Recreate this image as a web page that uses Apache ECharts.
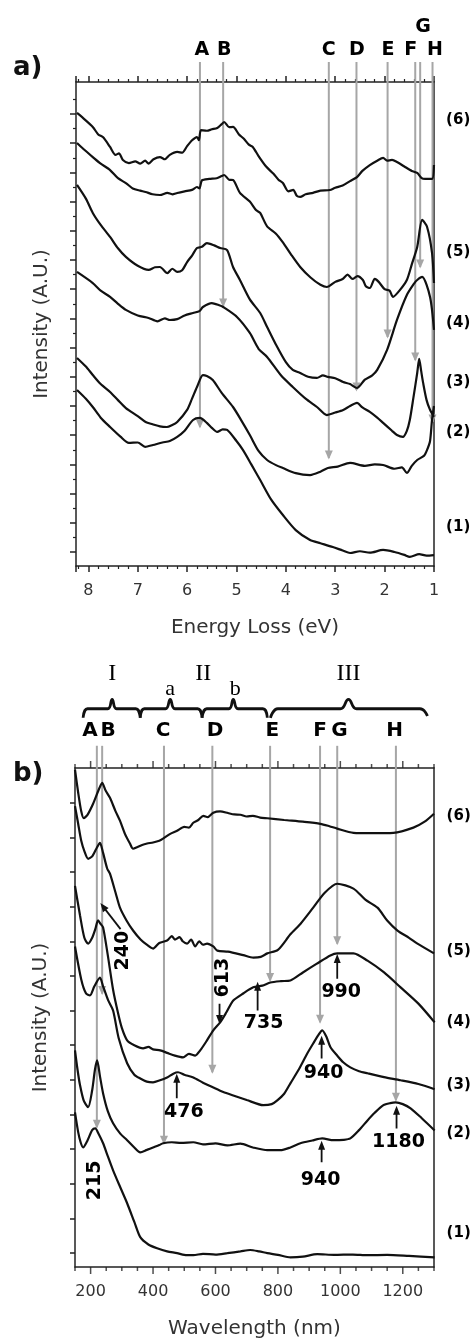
<!DOCTYPE html>
<html>
<head>
<meta charset="utf-8">
<script src="https://cdn.jsdelivr.net/npm/echarts@6/dist/echarts.min.js"></script>
<style>
  html, body { margin: 0; padding: 0; background: #fff; }
  #chart { width: 474px; height: 1343px; }
</style>
</head>
<body>
<div id="chart"></div>
<script>
// ---------- Panel a: energy loss spectra (eV, stacked intensity) ----------
const eelsS6 = [[8.23,30.07],[8.1,29.7],[7.91,29.11],[7.8,28.6],[7.7,28.4],[7.56,27.74],[7.45,27.2],[7.38,27.3],[7.30,26.85],[7.18,26.64],[7.05,26.75],[6.95,26.6],[6.85,26.8],[6.78,26.6],[6.68,26.9],[6.55,27.05],[6.45,26.9],[6.35,27.2],[6.2,27.4],[6.1,27.35],[6.0,27.8],[5.9,28.2],[5.80,28.42],[5.76,28.2],[5.72,28.9],[5.6,28.85],[5.5,28.95],[5.39,29.04],[5.3,29.3],[5.25,29.45],[5.15,29.1],[5.07,29.11],[4.95,28.6],[4.85,28.3],[4.75,27.9],[4.67,27.74],[4.55,27.1],[4.4,26.4],[4.25,25.9],[4.15,25.5],[4.06,25.27],[3.95,24.7],[3.85,24.8],[3.78,24.4],[3.71,24.32],[3.6,24.5],[3.45,24.6],[3.3,24.75],[3.11,24.79],[3.0,24.95],[2.85,25.1],[2.7,25.4],[2.56,25.68],[2.45,26.1],[2.3,26.5],[2.15,26.8],[2.03,26.99],[1.95,26.8],[1.85,26.85],[1.75,26.71],[1.6,26.4],[1.45,26.1],[1.34,25.96],[1.25,25.6],[1.18,25.55],[1.04,25.55],[1.0,26.51]];
const eelsS5 = [[8.23,28.01],[8.1,27.6],[7.91,27.05],[7.75,26.6],[7.56,26.16],[7.4,25.6],[7.24,25.27],[7.1,24.9],[6.95,24.75],[6.84,24.66],[6.7,24.5],[6.55,24.45],[6.4,24.6],[6.3,24.5],[6.2,24.59],[6.05,24.7],[5.9,24.8],[5.80,25.0],[5.75,24.9],[5.7,25.45],[5.55,25.55],[5.4,25.6],[5.3,25.75],[5.25,25.82],[5.15,25.5],[5.07,25.48],[4.93,24.6],[4.73,24.0],[4.6,23.4],[4.52,23.22],[4.38,22.3],[4.2,21.8],[4.06,21.2],[3.9,20.4],[3.71,19.52],[3.5,18.8],[3.3,18.3],[3.17,18.15],[3.0,18.5],[2.85,18.7],[2.75,19.0],[2.65,18.7],[2.55,18.9],[2.44,18.63],[2.38,18.2],[2.30,18.08],[2.2,18.7],[2.12,18.5],[2.0,18.0],[1.9,17.9],[1.83,17.47],[1.7,17.9],[1.55,18.63],[1.45,19.7],[1.34,20.89],[1.24,22.74],[1.14,22.26],[1.04,20.48],[1.0,18.42]];
const eelsS4 = [[8.23,25.14],[8.05,24.2],[7.91,23.22],[7.75,22.4],[7.56,21.58],[7.4,20.8],[7.24,20.21],[7.0,19.6],[6.78,19.32],[6.65,19.5],[6.55,19.52],[6.4,19.1],[6.3,19.4],[6.20,19.18],[6.1,19.3],[6.0,19.86],[5.9,20.3],[5.80,20.82],[5.7,20.9],[5.60,21.16],[5.45,21.0],[5.33,20.82],[5.19,20.68],[5.07,19.52],[4.93,18.63],[4.73,17.3],[4.52,16.37],[4.38,15.41],[4.2,14.2],[4.0,13.0],[3.86,12.47],[3.71,12.26],[3.55,12.0],[3.37,11.92],[3.25,12.1],[3.15,11.99],[3.0,11.9],[2.84,11.64],[2.7,11.5],[2.56,11.23],[2.4,11.8],[2.25,12.1],[2.15,12.47],[1.95,13.84],[1.75,15.89],[1.55,17.6],[1.4,18.4],[1.34,18.63],[1.24,18.84],[1.08,17.47],[1.0,15.21]];
const eelsS3 = [[8.23,19.18],[7.91,18.42],[7.75,17.9],[7.56,17.47],[7.4,17.0],[7.24,16.58],[7.0,16.2],[6.78,16.03],[6.6,15.8],[6.45,16.0],[6.35,15.89],[6.2,15.95],[6.05,16.2],[5.88,16.37],[5.75,16.5],[5.68,16.78],[5.50,17.05],[5.35,16.9],[5.27,16.78],[4.99,16.1],[4.73,15.0],[4.55,13.9],[4.38,13.36],[4.1,12.1],[3.86,11.3],[3.6,10.5],[3.37,9.93],[3.17,9.38],[3.0,9.55],[2.84,9.73],[2.7,10.0],[2.56,10.21],[2.45,9.9],[2.30,9.59],[2.15,9.2],[2.03,8.84],[1.85,8.3],[1.75,8.01],[1.63,7.88],[1.55,8.3],[1.49,9.04],[1.42,10.5],[1.34,12.26],[1.30,13.22],[1.26,12.4],[1.22,11.58],[1.15,10.4],[1.08,9.73],[1.0,9.25]];
const eelsS2 = [[8.23,13.29],[8.05,12.7],[7.91,12.12],[7.75,11.5],[7.56,10.96],[7.4,10.4],[7.24,9.86],[7.0,9.3],[6.84,8.9],[6.7,8.75],[6.55,8.6],[6.41,8.56],[6.3,8.7],[6.20,8.9],[6.0,9.73],[5.9,10.5],[5.80,11.3],[5.68,12.12],[5.6,12.05],[5.48,11.78],[5.3,10.9],[5.07,9.93],[4.9,9.0],[4.73,8.01],[4.55,6.9],[4.38,6.3],[4.2,5.95],[4.06,5.75],[3.8,5.4],[3.51,5.27],[3.3,5.5],[3.15,5.75],[2.95,5.85],[2.70,6.1],[2.4,5.9],[2.2,6.0],[2.03,5.96],[1.8,5.7],[1.65,5.8],[1.55,5.41],[1.45,5.9],[1.34,6.3],[1.2,6.6],[1.14,6.99],[1.08,7.6],[1.04,9.04],[1.0,10.0]];
const eelsS1 = [[8.23,11.1],[8.05,10.5],[7.91,9.93],[7.75,9.2],[7.56,8.56],[7.35,7.9],[7.18,7.47],[7.0,7.5],[6.85,7.2],[6.69,7.33],[6.5,7.5],[6.35,7.6],[6.20,7.88],[6.05,8.3],[5.88,9.04],[5.74,9.18],[5.60,8.84],[5.5,8.5],[5.39,8.22],[5.28,8.4],[5.19,8.36],[5.0,7.6],[4.87,6.99],[4.7,6.0],[4.52,4.93],[4.3,3.6],[4.06,2.53],[3.8,1.5],[3.51,0.82],[3.3,0.6],[3.05,0.34],[2.85,0.1],[2.70,-0.07],[2.5,0.05],[2.3,-0.05],[2.03,0.14],[1.8,0.0],[1.6,-0.2],[1.49,-0.34],[1.3,-0.15],[1.15,-0.25],[1.0,-0.21]];

// feature markers A-H on the energy axis
const eelsMarkNames = ['A','B','C','D','E','F','G','H'];
const eelsMarkX     = [5.74, 5.27, 3.13, 2.57, 1.94, 1.38, 1.28, 1.03];
const eelsMarkEnd   = [8.56, 16.85, 6.44, 11.1, 14.73, 13.15, 19.52, 8.9];
const eelsLetterX   = [5.70, 5.25, 3.13, 2.56, 1.93, 1.47, 1.22, 0.98];
const eelsLetterY   = [34.38, 34.38, 34.38, 34.38, 34.38, 34.38, 35.96, 34.38];
const eelsMarkTop   = 33.56;

// spectrum numbers at the right edge
const eelsTraceNames = ['(6)','(5)','(4)','(3)','(2)','(1)'];
const eelsTraceY     = [29.59, 20.55, 15.68, 11.64, 8.22, 1.71];

// axis ticks
const eelsXTicks = [1, 2, 3, 4, 5, 6, 7, 8];
const eelsYMajor = [0,2,4,6,8,10,12,14,16,18,20,22,24,26,28,30];
const eelsYMinor = [1,3,5,7,9,11,13,15,17,19,21,23,25,27,29,31];

// ---------- Panel b: optical absorption spectra (nm) ----------
const uvS6 = [[150,13.95],[160,13.3],[170,12.75],[178,12.55],[190,12.65],[208,12.97],[225,13.35],[237,13.57],[248,13.35],[262,13.14],[280,12.75],[294,12.48],[310,12.1],[326,11.82],[336,11.67],[350,11.72],[365,11.78],[381,11.82],[400,11.85],[420,11.9],[432,11.96],[455,12.1],[477,12.19],[500,12.3],[515,12.28],[529,12.42],[545,12.5],[561,12.62],[575,12.58],[593,12.71],[615,12.75],[640,12.7],[660,12.66],[680,12.65],[700,12.6],[720,12.62],[743,12.57],[766,12.55],[820,12.5],[880,12.45],[936,12.39],[965,12.32],[990,12.25],[1042,12.13],[1100,12.12],[1170,12.13],[1234,12.28],[1270,12.45],[1300,12.68]];
const uvS5 = [[150,12.9],[160,12.4],[170,11.9],[180,11.6],[192,11.38],[205,11.45],[220,11.7],[230,11.84],[240,11.55],[253,11.1],[262,10.95],[280,10.4],[294,9.97],[315,9.6],[336,9.31],[360,9.05],[380,8.9],[400,8.79],[420,8.95],[445,9.02],[460,9.15],[470,9.05],[485,9.12],[495,9.0],[509,8.93],[522,9.05],[535,8.85],[548,9.0],[560,8.9],[573,8.93],[593,8.85],[606,8.73],[640,8.7],[689,8.6],[721,8.53],[745,8.55],[766,8.65],[800,8.75],[840,9.2],[872,9.5],[913,9.97],[950,10.4],[990,10.66],[1042,10.52],[1080,10.2],[1119,9.97],[1150,9.6],[1183,9.31],[1220,9.1],[1247,8.93],[1300,8.65]];
const uvS4 = [[150,10.6],[166,9.75],[180,9.1],[192,8.93],[205,9.1],[215,9.35],[224,9.6],[232,9.5],[240,9.4],[255,8.6],[272,7.6],[288,6.92],[300,6.5],[317,6.14],[340,6.0],[368,5.91],[385,5.95],[400,5.88],[423,5.85],[445,5.78],[470,5.7],[496,5.65],[515,5.75],[535,5.7],[551,5.85],[570,6.1],[593,6.43],[615,6.66],[635,6.95],[657,7.29],[690,7.5],[721,7.67],[750,7.72],[776,7.81],[810,7.85],[840,7.87],[880,8.1],[926,8.36],[968,8.59],[990,8.65],[1042,8.65],[1087,8.44],[1140,8.1],[1193,7.67],[1250,7.2],[1302,6.66]];
const uvS3 = [[150,8.85],[170,7.9],[185,7.5],[198,7.44],[212,7.7],[230,7.95],[240,7.7],[256,7.3],[272,7.0],[290,6.2],[317,5.48],[340,5.15],[359,5.04],[380,4.95],[400,4.93],[420,4.98],[445,5.07],[465,5.18],[480,5.22],[500,5.15],[529,5.07],[560,4.92],[593,4.78],[625,4.65],[657,4.55],[700,4.42],[753,4.27],[780,4.3],[798,4.41],[820,4.6],[840,4.9],[870,5.35],[894,5.76],[913,6.05],[930,6.3],[942,6.43],[955,6.25],[968,5.95],[990,5.7],[1010,5.5],[1032,5.36],[1060,5.25],[1087,5.19],[1140,5.08],[1193,4.99],[1250,4.88],[1302,4.73]];
const uvS2 = [[150,5.85],[158,5.3],[166,4.85],[178,4.4],[192,4.21],[205,4.7],[214,5.3],[221,5.56],[230,5.1],[240,4.61],[255,4.1],[272,3.75],[295,3.45],[317,3.26],[340,3.05],[359,2.91],[380,2.98],[400,3.05],[420,3.12],[432,3.17],[460,3.2],[490,3.18],[529,3.2],[560,3.14],[600,3.17],[638,3.11],[680,3.16],[720,3.05],[766,2.97],[808,2.97],[840,3.05],[872,3.17],[910,3.25],[942,3.31],[978,3.26],[1010,3.27],[1032,3.31],[1060,3.55],[1087,3.83],[1110,4.05],[1138,4.27],[1160,4.33],[1177,4.35],[1200,4.3],[1225,4.18],[1260,3.9],[1302,3.54]];
const uvS1 = [[150,4.06],[160,3.5],[168,3.2],[176,3.05],[190,3.25],[205,3.55],[215,3.6],[225,3.45],[240,3.17],[255,2.8],[272,2.39],[295,1.9],[317,1.44],[340,0.9],[359,0.46],[385,0.25],[413,0.14],[445,0.05],[477,0.0],[500,-0.05],[529,-0.06],[560,-0.02],[600,-0.04],[638,0.0],[680,0.05],[711,0.09],[740,0.05],[766,0.0],[800,-0.05],[840,-0.12],[880,-0.1],[926,-0.03],[980,-0.05],[1040,-0.04],[1087,-0.06],[1150,-0.05],[1220,-0.08],[1302,-0.12]];

// feature markers A-H on the wavelength axis
const uvMarkNames = ['A','B','C','D','E','F','G','H'];
const uvMarkX     = [220, 237, 435, 590, 775, 935, 990, 1178];
const uvMarkEnd   = [3.63, 7.49, 3.17, 5.22, 7.87, 6.66, 8.93, 4.41];
const uvLetterX   = [198, 256, 432, 599, 782, 935, 997, 1174];
const uvLetterY   = 15.07;
const uvMarkTop   = 14.64;

// peak positions called out with arrows (nm, arrow tail, arrow tip, text level, text shift px)
const uvPeakNm    = [476, 735, 990, 940, 1180, 940];
const uvPeakTail  = [4.47, 7.0, 7.92, 5.62, 3.6, 2.62];
const uvPeakTip   = [5.05, 7.7, 8.5, 6.14, 4.12, 3.11];
const uvPeakTextY = [4.06, 6.63, 7.52, 5.19, 3.2, 2.1];
const uvPeakShift = [7, 6, 4, 2, 2, -1];

// rotated callouts
const uvRotNm     = [215, 304, 625];
const uvRotText   = ['215', '240', '613'];
const uvRotY      = [2.1, 8.73, 7.95];
const uv240Arrow  = [[296, 9.35], [240, 10.0]];
const uv613Arrow  = [[613, 7.2], [613, 6.74]];

// region braces above panel b
const braceI   = [[176,15.45],[190,15.71],[255,15.71],[269,15.98],[283,15.71],[345,15.71],[359,15.45]];
const braceIIa = [[359,15.45],[372,15.71],[440,15.71],[455,15.98],[470,15.71],[543,15.71],[557,15.45]];
const braceIIb = [[557,15.45],[572,15.71],[643,15.71],[657,15.98],[672,15.71],[752,15.71],[766,15.45]];
const braceIII = [[776,15.45],[800,15.71],[1000,15.71],[1026,15.98],[1052,15.71],[1255,15.71],[1279,15.5]];
const regionNames = ['I', 'II', 'III'];
const regionX     = [269, 561, 1026];
const regionY     = 16.71;
const subNames    = ['a', 'b'];
const subX        = [455, 663];
const subY        = 16.28;

const uvTraceNames = ['(6)','(5)','(4)','(3)','(2)','(1)'];
const uvTraceY     = [12.62, 8.73, 6.66, 4.84, 3.46, 0.58];

// wavelength ticks: labelled majors and the 50 nm steps between them
const uvXMajor = [200, 400, 600, 800, 1000, 1200];
const uvXMinor = [150,250,300,350,450,500,550,650,700,750,850,900,950,1050,1100,1150,1250,1300];
const uvYTicks = [0,1,2,3,4,5,6,7,8,9,10,11,12,13];
const uvYBottom = -0.4;
const uvYTop = 14;

// ---------- styling ----------
const SANS = "'DejaVu Sans', Verdana, sans-serif";
const SERIF = "'Liberation Serif', 'DejaVu Serif', serif";
const INK = '#111';
const AXIS = '#222';
const GREY = '#a6a6a6';
const axisLine = { show: true, onZero: false, lineStyle: { color: AXIS, width: 1.5 } };
const hiddenLine = { show: false, onZero: false };
const noSplit = { show: false };

function trace(data, xi, yi) {
  return {
    type: 'line', xAxisIndex: xi, yAxisIndex: yi, data: data,
    symbol: 'none', smooth: 0.25, silent: true, z: 3,
    lineStyle: { color: INK, width: 2.2 }
  };
}

function marker(x, top, end, xi, yi) {
  return {
    type: 'line', xAxisIndex: xi, yAxisIndex: yi, clip: false, silent: true, z: 1,
    symbol: 'none',
    lineStyle: { color: GREY, width: 2 },
    data: [[x, top], { value: [x, end], symbol: 'triangle', symbolSize: [8, 9], symbolRotate: 180,
      symbolOffset: [0, -3], itemStyle: { color: GREY } }]
  };
}

function pointer(from, to, rot, xi, yi) {
  return {
    type: 'line', xAxisIndex: xi, yAxisIndex: yi, clip: false, silent: true, z: 4,
    symbol: 'none',
    lineStyle: { color: INK, width: 1.8 },
    data: [from, { value: to, symbol: 'triangle', symbolSize: [7, 9], symbolRotate: rot,
      itemStyle: { color: INK } }]
  };
}

function textLayer(items, xi, yi, font) {
  return {
    type: 'scatter', xAxisIndex: xi, yAxisIndex: yi, clip: false, silent: true, z: 6,
    symbolSize: 1, itemStyle: { color: 'rgba(255,255,255,0)' },
    label: Object.assign({ show: true, position: 'inside', color: '#000',
      textBorderWidth: 0, opacity: 1 }, font),
    data: items
  };
}

// short outward strokes along the wavelength frame edges
function tickRow(values, edgeY, len, outward) {
  return {
    type: 'scatter', xAxisIndex: 2, yAxisIndex: 3, clip: false, silent: true, z: 2,
    symbol: 'rect', symbolSize: [1.5, len], symbolOffset: [0, outward * len / 2],
    itemStyle: { color: AXIS },
    data: values.map(v => [v, edgeY])
  };
}

function brace(data) {
  return {
    type: 'line', xAxisIndex: 2, yAxisIndex: 3, data: data, clip: false, silent: true,
    symbol: 'none', smooth: 0.45, z: 4,
    lineStyle: { color: INK, width: 2.8 }
  };
}

const series = [];
// panel a
series.push(trace(eelsS6, 0, 0), trace(eelsS5, 0, 0), trace(eelsS4, 0, 0),
            trace(eelsS3, 0, 0), trace(eelsS2, 0, 0), trace(eelsS1, 0, 0));
eelsMarkX.forEach((x, i) => series.push(marker(x, eelsMarkTop, eelsMarkEnd[i], 0, 0)));
series.push(textLayer(eelsMarkNames.map((n, i) => ({ value: [eelsLetterX[i], eelsLetterY[i]], label: { formatter: n } })),
  0, 0, { fontFamily: SANS, fontWeight: 'bold', fontSize: 19 }));
series.push(textLayer(eelsTraceNames.map((n, i) => ({ value: [0.51, eelsTraceY[i]], label: { formatter: n } })),
  0, 0, { fontFamily: SANS, fontWeight: 'bold', fontSize: 15 }));

// panel b
series.push(trace(uvS6, 2, 3), trace(uvS5, 2, 3), trace(uvS4, 2, 3),
            trace(uvS3, 2, 3), trace(uvS2, 2, 3), trace(uvS1, 2, 3));
series.push(tickRow(uvXMajor, uvYBottom, 7, 1), tickRow(uvXMinor, uvYBottom, 4, 1),
            tickRow(uvXMajor, uvYTop, 7, -1), tickRow(uvXMinor, uvYTop, 4, -1));
uvMarkX.forEach((x, i) => series.push(marker(x, uvMarkTop, uvMarkEnd[i], 2, 3)));
series.push(textLayer(uvMarkNames.map((n, i) => ({ value: [uvLetterX[i], uvLetterY], label: { formatter: n } })),
  2, 3, { fontFamily: SANS, fontWeight: 'bold', fontSize: 20 }));
uvPeakNm.forEach((nm, i) => series.push(pointer([nm, uvPeakTail[i]], [nm, uvPeakTip[i]], 0, 2, 3)));
series.push(textLayer(uvPeakNm.map((nm, i) => ({ value: [nm, uvPeakTextY[i]],
    label: { formatter: String(nm), offset: [uvPeakShift[i], 0] } })),
  2, 3, { fontFamily: SANS, fontWeight: 'bold', fontSize: 19 }));
series.push(textLayer(uvRotNm.map((nm, i) => ({ value: [nm, uvRotY[i]], label: { formatter: uvRotText[i], rotate: 90 } })),
  2, 3, { fontFamily: SANS, fontWeight: 'bold', fontSize: 19 }));
series.push(pointer(uv240Arrow[0], uv240Arrow[1], 37, 2, 3));
series.push(pointer(uv613Arrow[0], uv613Arrow[1], 180, 2, 3));
series.push(brace(braceI), brace(braceIIa), brace(braceIIb), brace(braceIII));
series.push(textLayer(regionNames.map((n, i) => ({ value: [regionX[i], regionY], label: { formatter: n } })),
  2, 3, { fontFamily: SERIF, fontSize: 24 }));
series.push(textLayer(subNames.map((n, i) => ({ value: [subX[i], subY], label: { formatter: n } })),
  2, 3, { fontFamily: SERIF, fontSize: 22 }));
series.push(textLayer(uvTraceNames.map((n, i) => ({ value: [1379, uvTraceY[i]], label: { formatter: n } })),
  2, 3, { fontFamily: SANS, fontWeight: 'bold', fontSize: 15 }));

const nameStyle = { fontFamily: SANS, fontSize: 20, color: '#333' };
const tickLabel = { fontFamily: SANS, fontSize: 16, color: '#333', margin: 17 };
const tickStyle = { color: AXIS, width: 1.5 };

const option = {
  animation: false,
  backgroundColor: '#fff',
  title: [
    { text: 'a)', left: 8, top: 50, textStyle: { fontFamily: SANS, fontWeight: 'bold', fontSize: 26, color: '#111' } },
    { text: 'b)', left: 8, top: 756, textStyle: { fontFamily: SANS, fontWeight: 'bold', fontSize: 26, color: '#111' } }
  ],
  grid: [
    { left: 76, top: 82, width: 358, height: 484 },
    { left: 75, top: 768, width: 359, height: 499 }
  ],
  xAxis: [
    { gridIndex: 0, type: 'value', position: 'bottom', min: 1, max: 8.25, interval: 1, inverse: true,
      axisLine: axisLine, splitLine: noSplit,
      axisTick: { show: true, length: 6, lineStyle: tickStyle },
      minorTick: { show: true, splitNumber: 5, length: 3, lineStyle: { color: AXIS, width: 1.2 } },
      axisLabel: Object.assign({ showMaxLabel: false,
        formatter: v => (eelsXTicks.indexOf(v) >= 0 ? String(v) : '') }, tickLabel),
      name: 'Energy Loss (eV)', nameLocation: 'middle', nameGap: 52, nameTextStyle: nameStyle },
    { gridIndex: 0, type: 'value', position: 'top', min: 1, max: 8.25, interval: 1, inverse: true,
      axisLine: axisLine, splitLine: noSplit,
      axisTick: { show: true, length: 6, lineStyle: tickStyle },
      minorTick: { show: true, splitNumber: 5, length: 3, lineStyle: { color: AXIS, width: 1.2 } },
      axisLabel: { show: false } },
    { gridIndex: 1, type: 'value', position: 'bottom', min: 150, max: 1300, interval: 50,
      axisLine: axisLine, splitLine: noSplit,
      axisTick: { show: false },
      axisLabel: Object.assign({ customValues: uvXMajor, formatter: v => String(v) }, tickLabel),
      name: 'Wavelength (nm)', nameLocation: 'middle', nameGap: 52, nameTextStyle: nameStyle },
    { gridIndex: 1, type: 'value', position: 'top', min: 150, max: 1300, interval: 50,
      axisLine: axisLine, splitLine: noSplit, axisLabel: { show: false },
      axisTick: { show: false } }
  ],
  yAxis: [
    { gridIndex: 0, type: 'value', position: 'left', min: -0.96, max: 32.19,
      axisLine: axisLine, splitLine: noSplit, axisLabel: { show: false },
      axisTick: { show: true, length: 6, customValues: eelsYMajor, lineStyle: tickStyle },
      name: 'Intensity (A.U.)', nameLocation: 'middle', nameRotate: 90, nameGap: 24, nameTextStyle: nameStyle },
    { gridIndex: 0, type: 'value', position: 'left', min: -0.96, max: 32.19,
      axisLine: hiddenLine, splitLine: noSplit, axisLabel: { show: false },
      axisTick: { show: true, length: 3, customValues: eelsYMinor, lineStyle: { color: AXIS, width: 1.2 } } },
    { gridIndex: 0, type: 'value', position: 'right', min: -0.96, max: 32.19,
      axisLine: axisLine, splitLine: noSplit, axisLabel: { show: false }, axisTick: { show: false } },
    { gridIndex: 1, type: 'value', position: 'left', min: uvYBottom, max: uvYTop,
      axisLine: axisLine, splitLine: noSplit, axisLabel: { show: false },
      axisTick: { show: true, length: 5, customValues: uvYTicks, lineStyle: tickStyle },
      name: 'Intensity (A.U.)', nameLocation: 'middle', nameRotate: 90, nameGap: 24, nameTextStyle: nameStyle },
    { gridIndex: 1, type: 'value', position: 'right', min: uvYBottom, max: uvYTop,
      axisLine: axisLine, splitLine: noSplit, axisLabel: { show: false }, axisTick: { show: false } }
  ],
  series: series
};

const chart = echarts.init(document.getElementById('chart'), null, { renderer: 'canvas' });
chart.setOption(option);
</script>
</body>
</html>
